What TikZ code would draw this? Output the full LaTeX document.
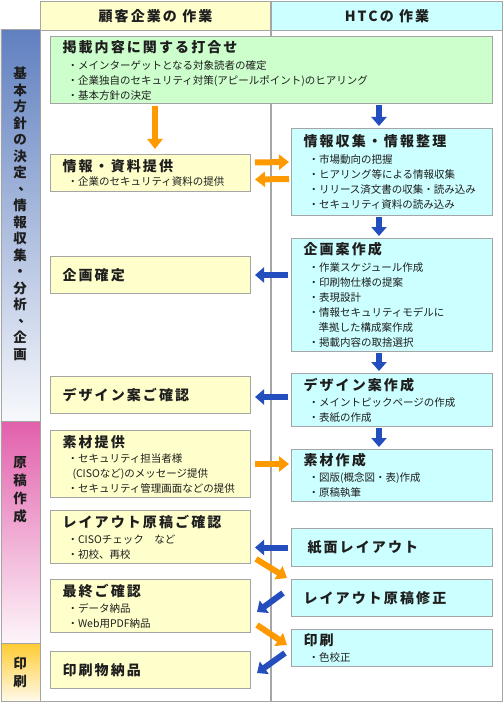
\documentclass[tikz,border=0pt]{standalone}
\usepackage{fontspec}
\setmainfont{Noto Sans CJK JP}
\newfontfamily\ttlfont[LetterSpace=15]{Noto Sans CJK JP}
\usetikzlibrary{arrows.meta}
\definecolor{custfill}{RGB}{255,255,204}
\definecolor{htcfill}{RGB}{204,255,255}
\definecolor{meetfill}{RGB}{204,255,204}
\definecolor{boxline}{RGB}{165,165,165}
\definecolor{inkc}{RGB}{30,30,30}
\definecolor{arrorange}{RGB}{255,153,0}
\definecolor{arrblue}{RGB}{36,78,190}
\definecolor{bandblue}{RGB}{96,128,192}
\definecolor{bandpink}{RGB}{226,96,172}
\definecolor{bandgold}{RGB}{255,204,51}
\newcommand\boxtitle[1]{{\ttlfont\bfseries\fontsize{14}{16}\selectfont #1}}
\newcommand\bulletline[1]{\hspace*{5pt}・#1}
\newcommand\bandcomma{\raisebox{4pt}{\hspace*{5pt}、\hspace*{-5pt}}}
\tikzset{
      taskbox/.style={
        draw=boxline,
        line width=1pt,
        anchor=north west,
        minimum height=#1,
        align=left,
        inner xsep=12pt,
        inner ysep=2pt,
        text=inkc,
        font=\fontsize{10.5}{15}\selectfont
      },
      custbox/.style={taskbox=#1, fill=custfill, minimum width=200pt, text width=176pt},
      htcbox/.style={taskbox=#1, fill=htcfill, minimum width=201pt, text width=177pt},
      meetbox/.style={taskbox=#1, fill=meetfill, minimum width=442pt, text width=418pt},
      hdrbox/.style={
        draw=boxline,
        line width=1pt,
        anchor=north west,
        minimum height=29pt,
        text=inkc,
        font=\ttlfont\bfseries\fontsize{14}{16}\selectfont
      },
      bandseg/.style={draw=boxline, line width=0.8pt, anchor=north west, minimum width=39pt},
      bandtext/.style={align=center, inner sep=0pt, text=inkc, font=\bfseries\fontsize{13.5}{16.5}\selectfont},
      oarr/.style={draw=arrorange, line width=6pt, -{Triangle[length=10pt,width=15pt]}},
      barr/.style={draw=arrblue, line width=6pt, -{Triangle[length=9pt,width=15pt]}}
    }
\begin{document}
\begin{tikzpicture}[x=1pt,y=-1pt]
    \useasboundingbox (0,0) rectangle (503,703);
    \node[hdrbox, fill=custfill, minimum width=230pt] (hdrL) at (40,1) {顧客企業の 作業};
    \node[hdrbox, fill=htcfill, minimum width=231pt] (hdrR) at (271,1) {HTCの 作業};
    \node[draw=boxline, line width=1.2pt, fill=white, anchor=north west, minimum width=462pt, minimum height=671pt] (frm) at (40,30) {};
    \draw[boxline, line width=1.2pt] (frm.north -| hdrL.east) -- (frm.south -| hdrL.east);
    \node[bandseg, top color=bandblue, bottom color=bandblue!5, minimum height=392pt] (ph1) at (0.5,29) {};
    \node[bandseg, top color=bandpink, bottom color=bandpink!6, minimum height=222pt] (ph2) at (0.5,421) {};
    \node[bandseg, top color=bandgold, bottom color=bandgold!10, minimum height=58pt] (ph3) at (0.5,643) {};
    \node[bandtext] (ph1txt) at (20,214) {基\\本\\方\\針\\の\\決\\定\\\bandcomma\\情\\報\\収\\集\\・\\分\\析\\\bandcomma\\企\\画};
    \node[bandtext, font=\bfseries\fontsize{13.5}{18}\selectfont] (ph2txt) at (20,490) {原\\稿\\作\\成};
    \node[bandtext, font=\bfseries\fontsize{13.5}{18}\selectfont] (ph3txt) at (20,672) {印\\刷};
    \node[meetbox=67pt] (meet) at (50,36) {\boxtitle{掲載内容に関する打合せ}\\[2pt]
      \bulletline{メインターゲットとなる対象読者の確定}\\
      \bulletline{企業独自のセキュリティ対策(アピールポイント)のヒアリング}\\
      \bulletline{基本方針の決定}};
    \node[custbox=37pt] (infoL) at (50,154) {\boxtitle{情報・資料提供}\\[-1pt] \bulletline{企業のセキュリティ資料の提供}};
    \node[htcbox=87pt] (infoR) at (291,128) {\boxtitle{情報収集・情報整理}\\[2pt]
      \bulletline{市場動向の把握}\\
      \bulletline{ヒアリング等による情報収集}\\
      \bulletline{リリース済文書の収集・読み込み}\\
      \bulletline{セキュリティ資料の読み込み}};
    \node[htcbox=113pt] (planR) at (291,238) {\boxtitle{企画案作成}\\[2pt]
      \bulletline{作業スケジュール作成}\\
      \bulletline{印刷物仕様の提案}\\
      \bulletline{表現設計}\\
      \bulletline{情報セキュリティモデルに}\\
      \hspace*{15pt}準拠した構成案作成\\
      \bulletline{掲載内容の取捨選択}};
    \node[custbox=37pt] (planL) at (50,256) {\boxtitle{企画確定}};
    \node[htcbox=53pt] (designR) at (291,373) {\boxtitle{デザイン案作成}\\[1pt]
      \bulletline{メイントピックページの作成}\\
      \bulletline{表紙の作成}};
    \node[custbox=37pt] (designL) at (50,376) {\boxtitle{デザイン案ご確認}};
    \node[custbox=67pt] (matL) at (50,430) {\boxtitle{素材提供}\\
      \bulletline{セキュリティ担当者様}\\
      \hspace*{10pt}(CISOなど)のメッセージ提供\\
      \bulletline{セキュリティ管理画面などの提供}};
    \node[htcbox=52pt] (matR) at (291,449) {\boxtitle{素材作成}\\[1pt]
      \bulletline{図版(概念図・表)作成}\\
      \bulletline{原稿執筆}};
    \node[custbox=53pt] (layoutL) at (50,510) {\boxtitle{レイアウト原稿ご確認}\\[1pt]
      \bulletline{CISOチェック　など}\\
      \bulletline{初校、再校}};
    \node[htcbox=38pt] (layoutR) at (291,528) {\hspace*{4pt}\boxtitle{紙面レイアウト}};
    \node[htcbox=37pt] (fixR) at (291,579) {\boxtitle{レイアウト原稿修正}};
    \node[custbox=53pt] (finalL) at (50,579) {\boxtitle{最終ご確認}\\[1pt]
      \bulletline{データ納品}\\
      \bulletline{Web用PDF納品}};
    \node[htcbox=37pt] (printR) at (291,629) {\boxtitle{印刷}\\[1pt] \bulletline{色校正}};
    \node[custbox=37pt] (deliverL) at (50,651) {\boxtitle{印刷物納品}};
    \draw[oarr] ([shift={(105,2)}]meet.south west) -- ([shift={(105,-5)}]infoL.north west);
    \draw[barr] ([shift={(329,1)}]meet.south west) -- ([shift={(88,-2)}]infoR.north west);
    \draw[oarr] ([shift={(4,-10.5)}]infoL.east) -- ([shift={(-2,34)}]infoR.north west);
    \draw[oarr] ([shift={(-2,51)}]infoR.north west) -- ([shift={(4,6.5)}]infoL.east);
    \draw[barr] ([shift={(88,1)}]infoR.south west) -- ([shift={(88,-2)}]planR.north west);
    \draw[barr] ([xshift=-3pt]planR.west |- planL.east) -- ([xshift=4pt]planL.east);
    \draw[barr] ([shift={(88,1)}]planR.south west) -- ([shift={(88,-2)}]designR.north west);
    \draw[barr] ([shift={(-3,2)}]designR.west |- designL.east) -- ([shift={(4,2)}]designL.east);
    \draw[barr] ([shift={(88,1)}]designR.south west) -- ([shift={(88,-2)}]matR.north west);
    \draw[oarr] ([xshift=4pt]matL.east) -- ([xshift=-2pt]matR.west |- matL.east);
    \draw[barr] ([xshift=-3pt]layoutR.west) -- ([xshift=4pt]layoutL.east |- layoutR.west);
    \draw[oarr] ([shift={(5,-5)}]layoutL.south east) -- ([shift={(-4,-1)}]fixR.north west);
    \draw[barr] ([shift={(-8,14)}]fixR.north west) -- ([shift={(6,33)}]finalL.north east);
    \draw[oarr] ([shift={(6,-8)}]finalL.south east) -- ([shift={(-4,16)}]printR.north west);
    \draw[barr] ([shift={(-6,24)}]printR.north west) -- ([shift={(6,22)}]deliverL.north east);
    \end{tikzpicture}
\end{document}
